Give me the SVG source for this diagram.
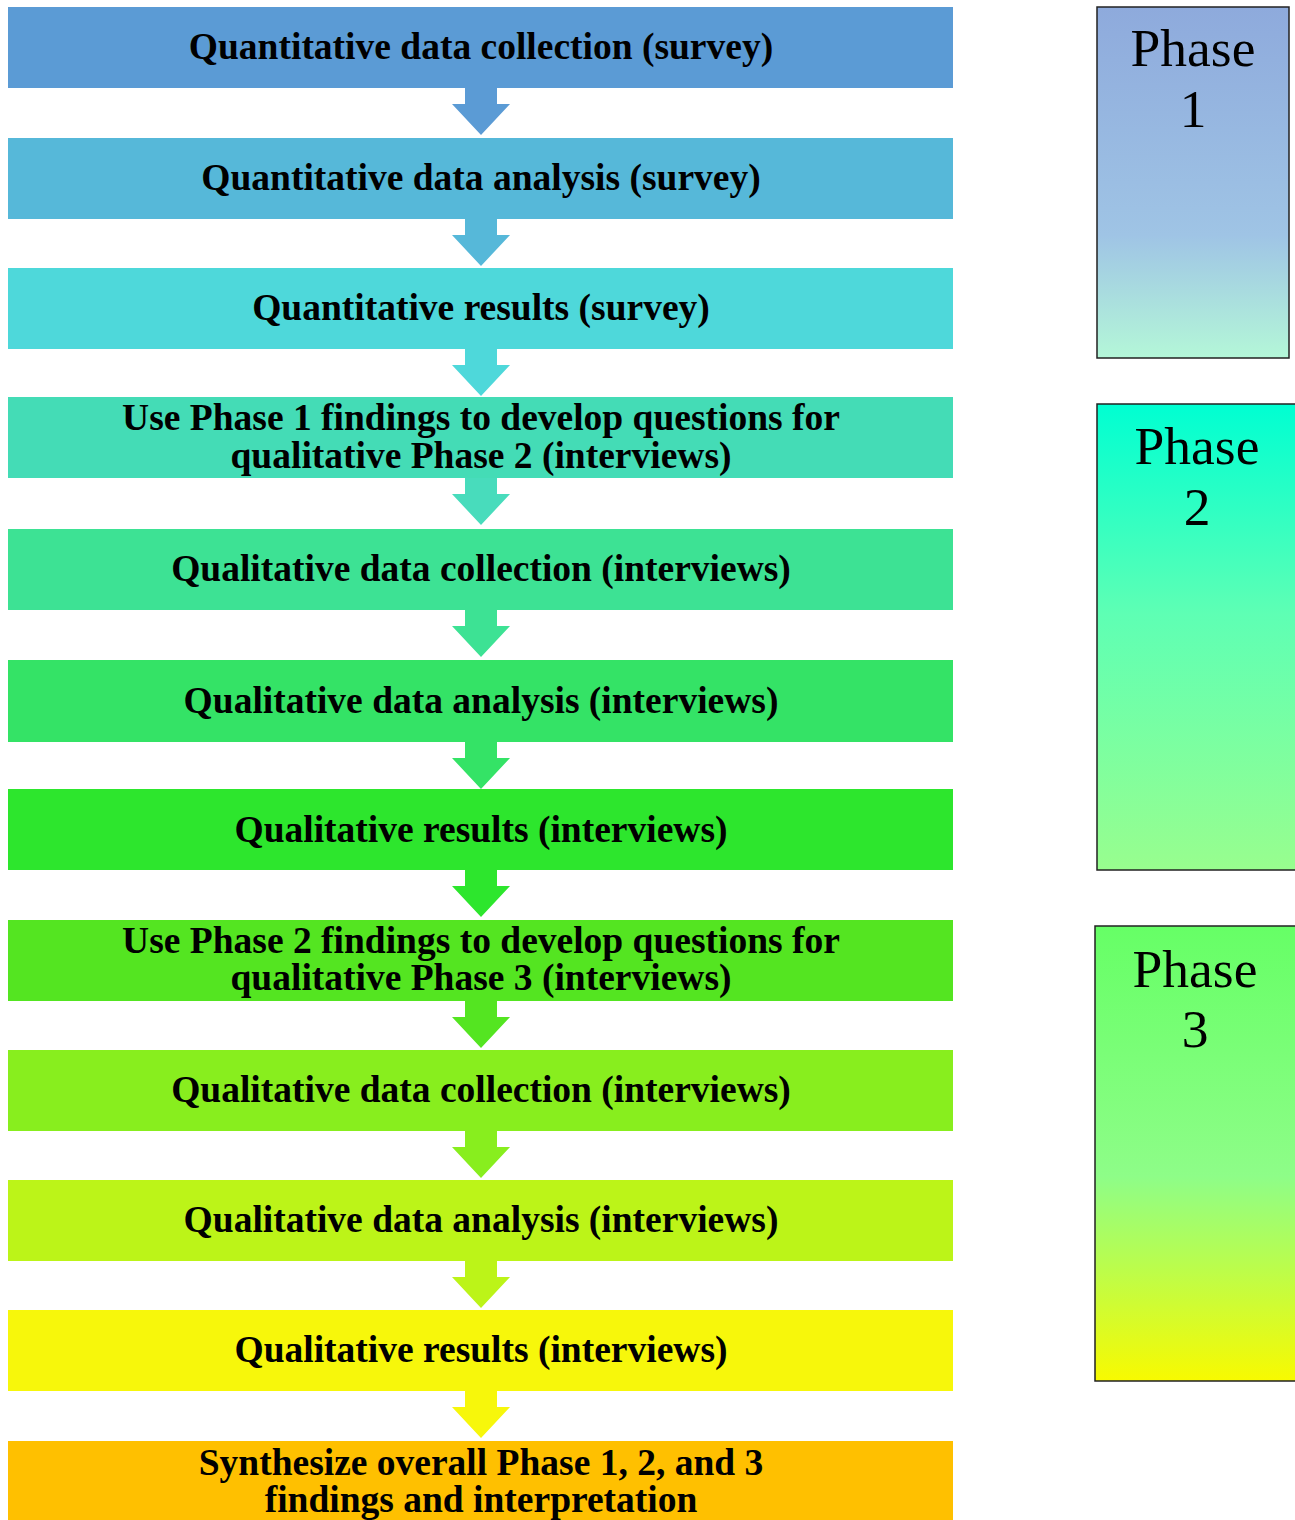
<svg xmlns="http://www.w3.org/2000/svg" width="1295" height="1520" viewBox="0 0 1295 1520">
<style>
.t{font-family:"Liberation Serif","Times New Roman",serif;font-weight:bold;font-size:37.5px;text-anchor:middle;fill:#000}
.p{font-family:"Liberation Serif","Times New Roman",serif;font-size:53.5px;text-anchor:middle;fill:#000}
.ph{stroke:#222;stroke-width:1.5}
</style>
<defs>
<linearGradient id="g1" x1="0" y1="0" x2="0" y2="1">
<stop offset="0" stop-color="#8eaadc"/><stop offset="0.65" stop-color="#9fc4e5"/><stop offset="1" stop-color="#b4f7d8"/>
</linearGradient>
<linearGradient id="g2" x1="0" y1="0" x2="0" y2="1">
<stop offset="0" stop-color="#00ffd2"/><stop offset="0.45" stop-color="#5effb4"/><stop offset="1" stop-color="#98fe8e"/>
</linearGradient>
<linearGradient id="g3" x1="0" y1="0" x2="0" y2="1">
<stop offset="0" stop-color="#66ff66"/><stop offset="0.55" stop-color="#8efd88"/><stop offset="0.75" stop-color="#bbfd4c"/><stop offset="1" stop-color="#f8fa00"/>
</linearGradient>
<path id="arr" d="M-16,0 H16 V16 H29 L0,47 L-29,16 H-16 Z"/>
</defs>
<g id="connectors">
<use href="#arr" x="481" y="88" fill="#5b9bd5"/>
<use href="#arr" x="481" y="219" fill="#56b8d9"/>
<use href="#arr" x="481" y="349" fill="#4ed8da"/>
<use href="#arr" x="481" y="478" fill="#48dcbc"/>
<use href="#arr" x="481" y="610" fill="#3de294"/>
<use href="#arr" x="481" y="742" fill="#34e366"/>
<use href="#arr" x="481" y="870" fill="#2de62d"/>
<use href="#arr" x="481" y="1001" fill="#54e521"/>
<use href="#arr" x="481" y="1131" fill="#88ee1e"/>
<use href="#arr" x="481" y="1261" fill="#bcf418"/>
<use href="#arr" x="481" y="1391" fill="#f7f70b"/>
</g>
<g id="n1"><rect x="8" y="7" width="945" height="81" fill="#5b9bd5"/><text class="t" x="481" y="59">Quantitative data collection (survey)</text></g>
<g id="n2"><rect x="8" y="138" width="945" height="81" fill="#56b8d9"/><text class="t" x="481" y="190">Quantitative data analysis (survey)</text></g>
<g id="n3"><rect x="8" y="268" width="945" height="81" fill="#4ed8da"/><text class="t" x="481" y="320">Quantitative results (survey)</text></g>
<g id="n4"><rect x="8" y="397" width="945" height="81" fill="#44dcb6"/><text class="t" x="481" y="430">Use Phase 1 findings to develop questions for</text><text class="t" x="481" y="468">qualitative Phase 2 (interviews)</text></g>
<g id="n5"><rect x="8" y="529" width="945" height="81" fill="#3de294"/><text class="t" x="481" y="581">Qualitative data collection (interviews)</text></g>
<g id="n6"><rect x="8" y="660" width="945" height="82" fill="#34e366"/><text class="t" x="481" y="713">Qualitative data analysis (interviews)</text></g>
<g id="n7"><rect x="8" y="789" width="945" height="81" fill="#2de62d"/><text class="t" x="481" y="842">Qualitative results (interviews)</text></g>
<g id="n8"><rect x="8" y="920" width="945" height="81" fill="#54e521"/><text class="t" x="481" y="953">Use Phase 2 findings to develop questions for</text><text class="t" x="481" y="990">qualitative Phase 3 (interviews)</text></g>
<g id="n9"><rect x="8" y="1050" width="945" height="81" fill="#88ee1e"/><text class="t" x="481" y="1102">Qualitative data collection (interviews)</text></g>
<g id="n10"><rect x="8" y="1180" width="945" height="81" fill="#bcf418"/><text class="t" x="481" y="1232">Qualitative data analysis (interviews)</text></g>
<g id="n11"><rect x="8" y="1310" width="945" height="81" fill="#f7f70b"/><text class="t" x="481" y="1362">Qualitative results (interviews)</text></g>
<g id="n12"><rect x="8" y="1441" width="945" height="79" fill="#ffc000"/><text class="t" x="481" y="1475">Synthesize overall Phase 1, 2, and 3</text><text class="t" x="481" y="1512">findings and interpretation</text></g>
<g id="phase1"><rect class="ph" x="1097" y="7" width="192" height="351" fill="url(#g1)"/><text class="p" x="1193" y="66">Phase</text><text class="p" x="1193" y="127">1</text></g>
<g id="phase2"><rect class="ph" x="1097" y="404" width="200" height="466" fill="url(#g2)"/><text class="p" x="1197" y="464">Phase</text><text class="p" x="1197" y="525">2</text></g>
<g id="phase3"><rect class="ph" x="1095" y="926" width="202" height="455" fill="url(#g3)"/><text class="p" x="1195" y="987">Phase</text><text class="p" x="1195" y="1047">3</text></g>
</svg>
